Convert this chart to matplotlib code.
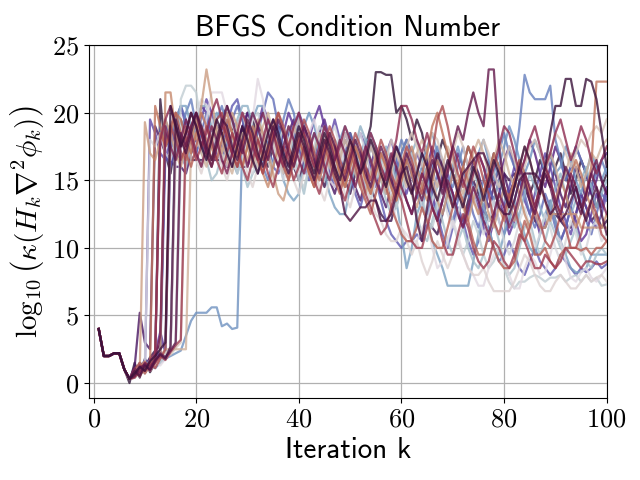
import numpy as np
import matplotlib
matplotlib.use("Agg")
import matplotlib.pyplot as plt
from matplotlib.ticker import FuncFormatter

plt.rcParams['mathtext.fontset'] = 'cm'
plt.rcParams['font.family'] = 'cmr10'
plt.rcParams['axes.formatter.use_mathtext'] = True

# log10 condition number per iteration, one list per run (iterations 1..100)
run00 = [4, 2, 2, 2.2, 2.2, 1, 0.3, 0.8, 0.5, 1.2,
         0.9, 1.5, 1.3, 1.8, 2.2, 18.5, 17.8, 19, 18.2, 17.5,
         18, 19.5, 21.5, 21.5, 21.5, 20, 19, 18.5, 17, 18.5,
         19.5, 22.5, 21, 18, 17.5, 16.5, 17.5, 18, 16, 15.5,
         17, 18.5, 19.5, 18, 17, 15, 14.5, 16, 17.5, 18,
         16.5, 15, 13.5, 14, 15.5, 17, 16, 14, 12, 11.5,
         11, 10.5, 10.5, 11.5, 12, 10, 8.5, 9, 10.5, 12,
         11, 9.5, 8.5, 8, 7.2, 7.2, 8.5, 9.5, 10, 9,
         8, 7, 7, 8.5, 9.5, 9, 8, 8.2, 9.5, 11,
         10.5, 9, 7.8, 7.5, 8.2, 8.5, 7.8, 7.5, 8, 8.5]
run01 = [4, 2, 2, 2.2, 2.2, 1, 0.3, 0.6, 1.1, 1.6,
         18, 17.5, 18.5, 17, 16.5, 18, 19, 17.5, 18, 20,
         21, 20.5, 19.5, 18, 16.5, 17, 18.5, 19, 17.5, 16,
         15.5, 17, 18.5, 19, 18, 16.5, 15, 16, 17.5, 18.5,
         17, 16, 14.5, 15, 16.5, 18, 19, 17.5, 16, 15.5,
         17, 18.5, 17, 15.5, 14, 15.5, 17, 16, 14.5, 13.5,
         15, 16.5, 15, 13, 12, 13.5, 15, 14, 12.5, 11.5,
         12.5, 14, 15.5, 14, 12.5, 11, 12, 13.5, 12, 10.5,
         9.5, 10.5, 12, 13, 11.5, 10, 11, 12.5, 11.5, 10,
         9, 10.5, 12, 11, 9.5, 10, 11.5, 12, 10.5, 11]
run02 = [4, 2, 2, 2.2, 2.2, 1, 0.3, 0.4, 0.9, 0.7,
         1.3, 1.8, 1.5, 2.2, 2.5, 2.8, 21, 22, 22, 21.5,
         19, 17.5, 16.5, 18, 19.5, 18, 17, 15.5, 16.5, 18,
         19.5, 20, 18.5, 17, 16, 17.5, 19, 18, 16.5, 15,
         14.5, 16, 17.5, 19, 18.5, 17, 16, 15, 16.5, 18,
         17.5, 16, 14.5, 13.5, 15, 16.5, 15.5, 14, 13, 14.5,
         16, 17, 15.5, 14, 12, 11.5, 13, 14.5, 13.5, 12,
         10.5, 9.5, 10.5, 12, 11, 9.5, 8.5, 9, 10, 8.5,
         7.5, 7, 7.5, 7.5, 7.8, 8, 7.8, 7.5, 7.8, 7.8,
         8, 7.5, 7.8, 8, 7.5, 8, 7.5, 7.8, 7.2, 7.3]
run03 = [4, 2, 2, 2.2, 2.2, 1, 0.3, 0.7, 1.0, 1.4,
         0.9, 1.6, 2.0, 1.8, 2.3, 2.6, 17, 16, 17.5, 18.5,
         17, 16.5, 15, 15.5, 17, 18, 19.5, 17.5, 16, 14.5,
         15.5, 16, 17.5, 18.5, 17, 16.5, 17.5, 19, 17, 15.5,
         14, 16, 17, 15.5, 15, 16.5, 18, 17.5, 16, 17,
         18, 16.5, 15, 14.5, 16, 15, 13.5, 12.5, 13, 14.5,
         15.5, 14, 12.5, 11, 10.5, 12, 13.5, 12, 10.5, 9.5,
         10.5, 11.5, 10, 9, 8.5, 9.5, 11, 12, 10.5, 9,
         8, 8.5, 10, 11.5, 12, 10.5, 9.5, 10.5, 12, 11,
         10, 9.5, 10.5, 11.5, 10, 9, 8.5, 9.5, 10, 9.5]
run04 = [4, 2, 2, 2.2, 2.2, 1, 0.3, 0.5, 1.3, 0.8,
         1.4, 1.9, 1.6, 2.1, 2.4, 20, 19, 18, 17.5, 19,
         20.5, 20.5, 19, 18, 17, 16.5, 18, 19.5, 20.5, 20.5,
         19, 17.5, 16, 16.5, 18, 17, 15.5, 16, 17.5, 19,
         18, 16.5, 15, 16, 17.5, 18.5, 17, 15.5, 14.5, 16,
         17.5, 19, 18, 16.5, 15, 16, 17.5, 16.5, 15, 14,
         15.5, 17, 18, 16.5, 15, 13.5, 14.5, 16, 15, 13.5,
         12.5, 13.5, 15, 16, 14.5, 13, 12, 13.5, 15, 14,
         12.5, 11.5, 12.5, 14, 15.5, 14.5, 13, 12, 13, 14.5,
         15.5, 14, 12.5, 13.5, 15, 16, 14.5, 13, 14, 15]
run05 = [4, 2, 2, 2.2, 2.2, 1, 0.3, 0.9, 0.6, 1.2,
         1.7, 1.4, 2.0, 2.3, 18.5, 19.5, 20.5, 20.5, 19, 17,
         16, 17.5, 19, 20, 19.5, 18, 16.5, 15.5, 17, 18.5,
         19.5, 20.5, 20.5, 19, 18, 17, 15, 14, 13.5, 14,
         16, 17.5, 18.5, 17, 15.5, 14, 13, 12.5, 12.5, 14.5,
         16, 17, 18, 18, 17, 16.5, 15.5, 14.5, 13.5, 11,
         8.5, 10, 12.5, 13.5, 12, 10.5, 9.5, 8.5, 7.2, 7.2,
         7.2, 7.2, 7.2, 9, 11, 12.5, 11.5, 10, 9.5, 11,
         12.5, 13.5, 12, 11, 10, 9.5, 11, 12.5, 13.5, 12,
         10.5, 9.5, 8.5, 8.2, 8.2, 8.5, 9.5, 9.5, 9.5, 9.5]
run06 = [4, 2, 2, 2.2, 2.2, 1, 0.3, 0.4, 0.8, 1.0,
         1.3, 1.1, 1.5, 1.8, 2.0, 2.2, 2.4, 3.5, 4.6, 5.2,
         5.2, 5.2, 5.6, 5.6, 4.2, 4.4, 4.0, 4.1, 18, 18.5,
         17.5, 16, 16.5, 18, 19, 18.5, 17, 15.5, 16, 17.5,
         19, 20, 19, 17.5, 16.5, 15, 16.5, 18, 19, 18,
         16.5, 15.5, 17, 18.5, 17.5, 16, 15, 14, 15.5, 17,
         18, 16.5, 15, 16, 17.5, 18.5, 17, 15.5, 14.5, 16,
         17.5, 16, 14.5, 15.5, 17, 18, 16.5, 15, 16, 17.5,
         19, 18, 16.5, 15.5, 16.5, 18, 17, 15.5, 17, 15.5,
         16, 17.5, 16.5, 15, 14, 15.5, 17, 16, 15, 16]
run07 = [4, 2, 2, 2.2, 2.2, 1, 0.3, 0.7, 1.4, 1.0,
         1.6, 2.1, 2.4, 19.5, 18, 17, 18.5, 20, 21, 19,
         17.5, 16.5, 18, 19.5, 20.5, 19, 17, 16, 17.5, 19,
         18.5, 17, 16, 15, 16.5, 18, 19.5, 21, 20, 18,
         16.5, 15.5, 17, 18.5, 17.5, 16, 15, 16.5, 18, 17,
         15.5, 14.5, 16, 17.5, 16.5, 15, 14, 15, 16.5, 18,
         17, 15.5, 14, 13, 14.5, 16, 17.5, 16.5, 15, 14.5,
         16, 17.5, 16, 14.5, 13.5, 15, 16.5, 15.5, 17, 18.5,
         17, 16, 19, 22.8, 21.5, 21, 21, 21, 22, 18,
         16.5, 15, 16, 17.5, 16.5, 15.5, 14.5, 15.5, 16.5, 15.5]
run08 = [4, 2, 2, 2.2, 2.2, 1, 0.3, 1.0, 0.6, 1.5,
         1.2, 2.0, 19, 18, 17.5, 19, 20.5, 19.5, 18, 17,
         18.5, 20, 19, 17.5, 16.5, 18, 19.5, 20.5, 19.5, 18,
         17, 18.5, 20, 21.5, 21, 19, 17.5, 16.5, 18, 19.5,
         18.5, 17, 16, 17.5, 19, 18, 16.5, 15.5, 17, 18.5,
         17.5, 16, 15, 14, 15.5, 17, 16, 14.5, 13.5, 15,
         16.5, 15.5, 14, 13, 12.5, 14, 15.5, 14.5, 13, 12,
         13.5, 15, 14, 12.5, 11.5, 13, 14.5, 13.5, 12, 11,
         12, 13.5, 15, 14, 12.5, 11.5, 12.5, 14, 13, 11.5,
         10.5, 11.5, 13, 14.5, 13.5, 12, 11, 12.5, 14, 13.5]
run09 = [4, 2, 2, 2.2, 2.2, 1, 0.3, 0.6, 1.1, 1.7,
         1.3, 1.9, 2.2, 17, 16, 17.5, 19, 18, 16.5, 17,
         18.5, 19.5, 18, 16.5, 17.5, 19, 20.5, 21, 19.5, 18,
         16.5, 17, 18.5, 17.5, 16, 15.5, 17, 18.5, 19, 17.5,
         16, 15, 16.5, 18, 17, 15.5, 14.5, 16, 17, 15.5,
         14, 13, 14.5, 16, 15, 13.5, 12, 11, 10.5, 10,
         10.5, 10.5, 11, 10.5, 12, 13.5, 12.5, 11, 10, 11.5,
         13, 12, 10.5, 9.5, 10.5, 12, 11.5, 10, 9, 9.5,
         10.5, 9.5, 8.5, 8, 9, 10, 9, 8.5, 8, 8.5,
         9.5, 9, 8.5, 8, 8.5, 8.2, 8.5, 9, 8.5, 8.8]
run10 = [4, 2, 2, 2.2, 2.2, 1, 0.3, 0.9, 1.3, 1.0,
         19.5, 18.5, 17, 16.5, 18, 19.5, 20.5, 19, 17.5, 18,
         19.5, 21, 20, 18.5, 17, 16, 17.5, 19, 20, 18.5,
         17, 16, 17.5, 19, 18, 16.5, 15.5, 17, 18.5, 20,
         19, 17.5, 16, 15, 16.5, 18, 19.5, 18, 16.5, 15.5,
         17, 18.5, 17.5, 16, 14.5, 15.5, 17, 18, 16.5, 15,
         14, 15.5, 17, 16, 14.5, 13.5, 15, 16.5, 15.5, 14,
         12.5, 11.5, 13, 14.5, 13.5, 12.5, 14, 15.5, 14.5, 13,
         14.5, 16, 15, 13.5, 12.5, 14, 15.5, 17, 16, 14.5,
         13, 12, 11, 12.5, 14, 13, 12, 11.5, 12.5, 14]
run11 = [4, 2, 2, 2.2, 2.2, 1, 0.3, 0.5, 1.0, 0.8,
         1.4, 2.2, 3.8, 2.2, 17.5, 18.5, 17, 16, 17.5, 19,
         20.5, 20, 18.5, 17, 16.5, 18, 19.5, 18.5, 17, 16,
         17.5, 19, 20.5, 19.5, 18, 17, 18.5, 20, 19, 17.5,
         16.5, 18, 19.5, 20.5, 19, 17.5, 16, 17, 18.5, 17.5,
         16, 15, 16.5, 18, 17, 15.5, 14.5, 16, 17.5, 16.5,
         15, 14, 15.5, 17, 16, 14, 12.5, 13.5, 15, 14,
         12.5, 11.5, 12.5, 14, 13, 11.5, 10.5, 12, 13.5, 12.5,
         11, 12, 13.5, 15, 14, 12.5, 11, 12, 13.5, 12,
         10.5, 11.5, 13, 12, 10.5, 11, 12.5, 14, 13, 14.5]
run12 = [4, 2, 2, 2.2, 2.2, 1, 0.3, 0.8, 1.4, 1.1,
         1.8, 1.5, 2.3, 2.0, 2.6, 18, 17, 16.5, 18, 19.5,
         18.5, 17, 16, 17.5, 19, 18, 16.5, 17.5, 19, 20,
         19, 17.5, 16.5, 18, 19.5, 18.5, 17, 16, 17.5, 18.5,
         17.5, 16, 17, 18.5, 19.5, 18, 16.5, 15.5, 16.5, 18,
         17, 15.5, 14.5, 16, 17.5, 16.5, 15, 14, 15.5, 17,
         18, 17, 15.5, 14.5, 16, 17.5, 16.5, 15, 14, 15.5,
         17, 16, 14.5, 15.5, 17, 16, 14.5, 13.5, 15, 16.5,
         17.5, 16, 15, 16.5, 18, 17, 15.5, 14.5, 16, 17.5,
         16.5, 15, 16, 17.5, 16.5, 15.5, 14, 15, 16.5, 17]
run13 = [4, 2, 2, 2.2, 2.2, 1, 0.3, 1.2, 5.2, 3.0,
         2.5, 19, 18, 17, 16.5, 16, 16, 15.5, 17, 18.5,
         18, 16.5, 17.5, 19, 18.5, 17, 16, 17.5, 19, 18,
         16.5, 15.5, 17, 18.5, 17.5, 16, 17, 18.5, 19.5, 18,
         16.5, 15.5, 17, 18, 16.5, 15, 14, 15.5, 17, 16,
         14.5, 13.5, 15, 16.5, 15.5, 14, 13, 14.5, 16, 15,
         13.5, 12.5, 14, 15.5, 14.5, 13, 12, 13.5, 15, 14,
         12.5, 13.5, 15, 16.5, 15.5, 14, 13, 14.5, 16, 15.5,
         14, 15, 16.5, 15.5, 14, 13, 14.5, 16, 17, 15.5,
         14, 13, 14.5, 16, 15, 13.5, 14.5, 16, 15, 14]
run14 = [4, 2, 2, 2.2, 2.2, 1, 0.3, 0.6, 1.5, 1.2,
         1.9, 2.4, 2.8, 18.5, 17, 16.5, 17, 16.5, 16.5, 16.5,
         16.5, 16.5, 16.5, 16.5, 16.5, 16, 16, 16, 16, 16,
         17.5, 19, 18.5, 17, 16, 17.5, 18.5, 17.5, 16, 15,
         16.5, 18, 17, 15.5, 14.5, 16, 17.5, 16.5, 15, 14,
         15.5, 17, 16, 14.5, 13.5, 12.5, 12, 12, 13.5, 15,
         16.5, 15.5, 14, 13, 12, 11.5, 11, 12.5, 14, 13.5,
         12.5, 12, 13.5, 15, 14, 13, 12, 12.5, 14, 15.5,
         15, 15.5, 15.5, 14.5, 13.5, 12, 11.5, 11.5, 12.5, 12.5,
         12, 11.5, 11.5, 12.5, 14, 13, 12, 12.5, 11.5, 12]
run15 = [4, 2, 2, 2.2, 2.2, 1, 0.0, 1.5, 0.4, 1.8,
         0.8, 1.5, 21, 17, 15.5, 18, 19.5, 18, 17, 18.5,
         19, 17.5, 16.5, 18, 19.5, 20.5, 19, 17.5, 18.5, 20,
         19.5, 18, 17, 16, 17.5, 19, 18.5, 17, 16, 17.5,
         19, 18, 16.5, 15.5, 17, 18.5, 17.5, 16, 17, 18.5,
         17, 16, 17.5, 19, 23, 23, 22.8, 22.8, 20, 20.5,
         19.5, 18, 19.5, 18.5, 16.5, 15, 16.5, 18, 17, 15.5,
         14.5, 16, 17.5, 16.5, 15, 14, 15.5, 17, 16, 14.5,
         13.5, 15, 16.5, 15.5, 14, 15, 16.5, 15.5, 14.5, 16,
         17, 15.5, 14, 15, 16.5, 15.5, 14, 13, 14.5, 15.5]
run16 = [4, 2, 2, 2.2, 2.2, 1, 0.3, 0.7, 1.2, 0.9,
         1.6, 2.0, 2.5, 3.0, 20.5, 19, 17.5, 18.5, 20, 19,
         17.5, 16.5, 18, 19.5, 18.5, 17, 16, 17.5, 19, 18,
         16.5, 15.5, 17, 18.5, 19.5, 18.5, 17, 16, 17.5, 19,
         18, 16.5, 15.5, 17, 18.5, 17.5, 16, 15, 16.5, 18,
         17, 15.5, 16.5, 18, 17, 15.5, 14.5, 16, 17.5, 16.5,
         15, 14, 15.5, 17, 16, 14.5, 13.5, 15, 16.5, 15.5,
         14, 13, 14.5, 16, 15, 13.5, 15, 16.5, 15.5, 14,
         13, 14.5, 16, 17.5, 16.5, 15, 14, 16, 18.5, 20.5,
         20.5, 22.5, 22.5, 20.5, 20.5, 22.5, 22.3, 21, 18.5, 16]
run17 = [4, 2, 2, 2.2, 2.2, 1, 0.3, 0.9, 0.5, 1.3,
         1.0, 1.7, 2.1, 1.8, 2.7, 19.5, 18, 17, 18.5, 20,
         19, 17.5, 16.5, 18, 19.5, 19, 17.5, 16.5, 18, 19.5,
         18.5, 17, 16, 17.5, 19, 18, 16.5, 15.5, 17, 18.5,
         17.5, 16, 15, 16.5, 18, 17, 15.5, 14.5, 12.5, 12,
         12.5, 13, 13, 13.5, 13.5, 12, 12, 12.5, 14, 15.5,
         16, 14.5, 12, 10.5, 13, 15.5, 17, 16, 14.5, 13,
         14, 15.5, 16, 16.5, 17, 17, 16, 14.5, 13, 12.5,
         12.5, 13.5, 15, 15.5, 15.5, 15.5, 15, 13.5, 12.5, 13,
         12, 12.5, 13.5, 14.5, 13, 12, 13.5, 14.5, 12.5, 11]
run18 = [4, 2, 2, 2.2, 2.2, 1, 0.3, 0.5, 1.1, 1.4,
         0.9, 1.6, 2.2, 1.9, 2.4, 3.0, 18.5, 17.5, 19, 20,
         18.5, 17, 16, 17.5, 19, 20.5, 19.5, 18, 17, 18.5,
         20, 19, 17.5, 16.5, 18, 19.5, 18.5, 17, 16, 17.5,
         19, 18, 16.5, 15.5, 17, 18.5, 17.5, 16, 15, 16.5,
         18, 17, 15.5, 14.5, 16, 17.5, 16.5, 15, 14, 15.5,
         17, 16, 14.5, 13.5, 15, 16.5, 15.5, 14, 15.5, 17.5,
         19, 18, 20, 21.5, 20, 19, 23.2, 23.2, 17.5, 14.5,
         13, 14.5, 16, 15, 13.5, 12.5, 14, 15.5, 14.5, 13,
         14.5, 16, 15, 13.5, 12.5, 14, 15.5, 16.5, 15, 14]
run19 = [4, 2, 2, 2.2, 2.2, 1, 0.3, 1.1, 0.7, 1.5,
         1.2, 1.8, 3.5, 19, 17.5, 16.5, 18, 19.5, 18.5, 17,
         16, 17.5, 19, 18, 16.5, 15.5, 17, 18.5, 17.5, 16,
         17.5, 19, 20, 18.5, 17, 16, 17.5, 19, 18, 16.5,
         15.5, 17, 18.5, 17.5, 16, 15, 16.5, 18, 17, 15.5,
         14.5, 16, 17.5, 16.5, 15, 14, 15.5, 17, 16, 14.5,
         13.5, 12.5, 14, 15.5, 14.5, 13, 12, 13.5, 15, 14,
         12.5, 11.5, 13, 14.5, 13.5, 12, 11, 12.5, 14, 13,
         11.5, 12.5, 14, 15.5, 14.5, 13, 14.5, 16, 15, 13.5,
         12.5, 14, 15.5, 14.5, 13, 14, 15.5, 14.5, 13.5, 12.5]
run20 = [4, 2, 2, 2.2, 2.2, 1, 0.3, 0.6, 1.3, 0.9,
         1.7, 2.2, 18, 19.5, 20.5, 19, 17.5, 18.5, 20, 19,
         17.5, 18.5, 20, 21, 19.5, 18, 17, 18.5, 20, 19,
         17.5, 16.5, 18, 19.5, 18.5, 17, 16, 17.5, 19, 20,
         18.5, 17, 16, 17.5, 19, 18, 16.5, 17.5, 19, 18,
         16.5, 15.5, 17, 18.5, 17.5, 16, 15, 16.5, 18, 20.5,
         20.5, 19.5, 18, 17, 18.5, 17, 15.5, 14.5, 16, 17.5,
         16.5, 15, 14, 15.5, 17, 16, 14.5, 16, 17.5, 19,
         18.5, 17, 15.5, 16.5, 18, 19, 17.5, 16, 17, 18.5,
         19.5, 18, 16.5, 17.5, 19, 18, 16.5, 15.5, 16.5, 17.5]
run21 = [4, 2, 2, 2.2, 2.2, 1, 0.3, 0.4, 0.9, 1.3,
         1.0, 1.5, 2.0, 1.7, 2.3, 2.8, 3.2, 19, 18, 16.5,
         17.5, 19, 18, 16.5, 15.5, 17, 18.5, 17.5, 16, 15,
         16.5, 18, 17, 15.5, 14.5, 16, 17.5, 16.5, 15, 16,
         17.5, 16.5, 15, 14, 15.5, 17, 16, 14.5, 13.5, 15,
         16.5, 15.5, 14, 13, 12, 11, 11.5, 13, 14.5, 13.5,
         12, 10.5, 10, 10, 11.5, 13, 12, 10.5, 9.5, 9.5,
         11, 12.5, 11.5, 10, 9, 8.5, 9, 10.5, 10, 9,
         8.5, 9.5, 11, 10.5, 9.5, 8.5, 8.5, 9.5, 9, 8.5,
         9, 10, 9.5, 9, 8.5, 9, 9, 8.8, 8.8, 9]
run22 = [4, 2, 2, 2.2, 2.2, 1, 0.3, 0.8, 0.5, 1.2,
         1.5, 1.1, 1.8, 2.5, 19, 18, 16.5, 17.5, 19, 20,
         18.5, 17, 18, 19.5, 20, 18.5, 17, 16, 17.5, 19,
         18, 16.5, 15.5, 17, 18.5, 20, 19, 17.5, 16.5, 18,
         19.5, 18.5, 17, 16, 17.5, 19, 18, 16.5, 15.5, 17,
         18.5, 17.5, 16, 15, 16.5, 18, 17, 15.5, 14.5, 16,
         17.5, 16.5, 15, 14, 15.5, 17, 19.5, 20.5, 19, 17,
         15.5, 14.5, 16, 17.5, 16.5, 15, 14, 12, 11, 12.5,
         14, 13, 11.5, 10.5, 11.5, 13, 12, 10.5, 10, 11,
         12.5, 11.5, 10, 10, 11, 12.5, 13.5, 12.5, 11, 10.5]
run23 = [4, 2, 2, 2.2, 2.2, 1, 0.3, 1.0, 1.5, 0.7,
         1.3, 2.0, 18.5, 17.5, 19, 20, 18.5, 17, 16, 17.5,
         19, 18, 16.5, 17.5, 19, 18.5, 17, 16, 17.5, 19,
         18, 16.5, 15.5, 17, 18.5, 17.5, 16, 15, 16.5, 18,
         17, 15.5, 14.5, 16, 17.5, 16.5, 15, 14, 15.5, 17,
         16, 14.5, 13.5, 12.5, 14, 15.5, 14.5, 13, 12, 11,
         10.5, 10.5, 11.5, 13, 12, 10.5, 10, 10, 11.5, 13,
         14.5, 13.5, 12, 10.5, 9.5, 9.5, 11, 10, 9, 8.5,
         8.5, 9, 10.5, 12, 11, 9.5, 9.5, 10, 9, 8.5,
         9.5, 10, 10, 10, 9.8, 10, 9.5, 10, 10, 10.5]
run24 = [4, 2, 2, 2.2, 2.2, 1, 0.3, 0.7, 1.2, 1.6,
         1.1, 20.5, 19, 17.5, 18.5, 20, 19.5, 18, 17, 18.5,
         20, 19, 17.5, 16.5, 18, 19.5, 18.5, 17, 16, 17.5,
         19, 18, 16.5, 17.5, 19, 20, 18.5, 17, 16, 17.5,
         18.5, 17.5, 16, 15, 16.5, 18, 17, 15.5, 14.5, 16,
         17.5, 16.5, 15, 14, 15.5, 17, 16, 14.5, 13.5, 15,
         16.5, 15.5, 14, 15.5, 17, 19, 20, 18.5, 17, 15.5,
         14.5, 16, 17.5, 16.5, 15, 14, 15.5, 17, 16, 14.5,
         13.5, 15, 16.5, 15.5, 14, 13, 14.5, 16, 15, 13.5,
         12.5, 14, 15.5, 16.5, 15.5, 14, 16, 22.3, 22.3, 22.3]
run25 = [4, 2, 2, 2.2, 2.2, 1, 0.3, 0.5, 1.0, 1.4,
         0.9, 1.5, 2.1, 21.5, 21.5, 18.5, 17, 16.5, 18, 19.5,
         18.5, 17, 16, 17.5, 19, 20, 18.5, 17, 16, 17.5,
         18.5, 17, 15.5, 14.5, 16, 17.5, 16.5, 15, 16.5, 18,
         17, 15.5, 14.5, 16, 17.5, 18.5, 17, 15.5, 14.5, 16,
         17.5, 16.5, 15, 14, 15.5, 17, 16, 14.5, 13.5, 15,
         16.5, 17.5, 16, 14.5, 13.5, 15, 16.5, 15.5, 14, 13,
         14.5, 16, 15, 13.5, 12.5, 14, 15.5, 14.5, 13, 12,
         13.5, 15, 14, 12.5, 11.5, 13, 14.5, 13.5, 12, 13.5,
         15, 14, 12.5, 11.5, 12.5, 14, 13, 12, 11.5, 12.5]
run26 = [4, 2, 2, 2.2, 2.2, 1, 0.3, 0.6, 0.9, 19.3,
         17, 16.5, 18, 19.5, 18.5, 17, 16, 17.5, 19, 18,
         20.5, 23.2, 21, 18.5, 17, 18.5, 20, 19, 17.5, 16.5,
         18, 19.5, 18.5, 17, 15.5, 14, 13.5, 15, 17, 18.5,
         17.5, 16, 15, 16.5, 18, 17, 15.5, 14.5, 16, 17.5,
         16.5, 15, 14, 15.5, 17, 16, 14.5, 13.5, 15, 16.5,
         15.5, 14, 13, 14.5, 16, 15, 13.5, 12.5, 14, 15.5,
         14.5, 13, 12, 13.5, 15, 14, 12.5, 11.5, 13, 14.5,
         13.5, 12, 13.5, 15, 14, 12.5, 11.5, 11.5, 12.5, 12.5,
         12.5, 12.5, 12.5, 12.5, 11.5, 11.5, 11.5, 11.5, 11.5, 11.5]
run27 = [4, 2, 2, 2.2, 2.2, 1, 0.3, 0.8, 0.5, 1.1,
         1.4, 1.8, 2.0, 2.5, 2.5, 2.5, 2.5, 2.5, 17.5, 18.5,
         17, 16, 17.5, 19, 18, 16.5, 15.5, 17, 18.5, 17.5,
         16, 17.5, 19, 20, 18.5, 17, 16, 17.5, 19, 18,
         16.5, 15.5, 17, 18.5, 17.5, 16, 15, 16.5, 18, 17,
         15.5, 14.5, 16, 17.5, 16.5, 15, 14, 15.5, 17, 16,
         14.5, 15.5, 17, 18, 17, 15.5, 14.5, 16, 17.5, 16.5,
         15, 14, 15.5, 17, 18, 17, 15.5, 16.5, 18, 17,
         15.5, 14.5, 16, 17.5, 16.5, 15, 14, 15.5, 17, 16,
         14.5, 15.5, 17, 16, 14.5, 15.5, 17, 16.5, 17.5, 18]
run28 = [4, 2, 2, 2.2, 2.2, 1, 0.3, 0.4, 0.8, 1.2,
         1.0, 1.6, 1.9, 2.3, 2.1, 2.6, 3.0, 17.5, 18.5, 17,
         16, 17.5, 19, 18.5, 17, 16, 17.5, 19, 20, 18.5,
         17, 16, 17.5, 19, 18, 16.5, 15.5, 17, 18.5, 19.5,
         18, 16.5, 15.5, 17, 18.5, 17.5, 16, 17, 18.5, 17.5,
         16, 15, 16.5, 18, 17, 15.5, 16.5, 18, 17, 16.5,
         17.5, 18.5, 17.5, 16, 17, 18.5, 18, 16.5, 15.5, 17,
         18.5, 17.5, 16, 15, 16.5, 18, 17, 15.5, 14.5, 16,
         17.5, 16.5, 15, 16, 17.5, 18, 17, 16, 17, 18.5,
         18, 17, 16, 17, 18, 17.5, 18.5, 19, 18.5, 19.5]
run29 = [4, 2, 2, 2.2, 2.2, 1, 0.3, 0.9, 1.3, 0.8,
         1.5, 1.2, 1.9, 2.2, 2.4, 16.5, 17.5, 19, 18, 16.5,
         15.5, 17, 18.5, 17.5, 16, 15, 16.5, 18, 17, 15.5,
         14.5, 16, 17.5, 16.5, 15, 16, 17.5, 16.5, 15, 14,
         15.5, 17, 16, 14.5, 13.5, 15, 16.5, 15.5, 14, 13,
         14.5, 16, 15, 13.5, 12.5, 12, 11, 10.5, 10.5, 11.5,
         10.5, 9.5, 10.5, 9, 8, 9, 10.5, 9.5, 8.5, 9.5,
         10.5, 9.5, 8.5, 8, 8, 8.5, 7.5, 6.8, 6.8, 6.8,
         6.8, 7.5, 8.5, 9.5, 9, 8, 7.2, 6.8, 6.8, 7.5,
         8, 7.5, 7, 7, 7.5, 8, 7.5, 7.8, 8, 7.5]

# drawing order: colours follow twilight_shifted, so the last run drawn is dark
runs = [run15, run14, run13, run12, run11, run10, run09, run08, run07, run06,
        run05, run04, run03, run02, run01, run00, run29, run28, run27, run26,
        run25, run24, run23, run22, run21, run20, run19, run18, run17, run16]

fig = plt.figure(figsize=(6.4, 4.8), dpi=100)
ax = fig.add_axes([0.139, 0.171, 0.809, 0.735])

n = len(runs)
for i, r in enumerate(runs):
    k = np.arange(1, len(r) + 1)
    ax.plot(k, r, color=plt.cm.twilight_shifted(i / n), alpha=0.8, lw=1.6)

ax.set_xlim(-0.9, 100)
ax.set_ylim(-1.1, 25)
ax.set_xticks([0, 20, 40, 60, 80, 100])
ax.set_yticks([0, 5, 10, 15, 20, 25])
fmt = FuncFormatter(lambda v, p: r'$%d$' % v)
ax.xaxis.set_major_formatter(fmt)
ax.yaxis.set_major_formatter(fmt)
ax.tick_params(labelsize=19)
ax.grid(True, color='#b0b0b0', lw=0.9)

ax.set_title('BFGS Condition Number', fontsize=21, family='cmss10')
ax.set_xlabel('Iteration k', fontsize=21, family='cmss10')
ax.set_ylabel(r'$\log_{10}\left(\kappa(H_k \nabla^2 \phi_k)\right)$', fontsize=21)

fig.savefig('out.png', dpi=100)
